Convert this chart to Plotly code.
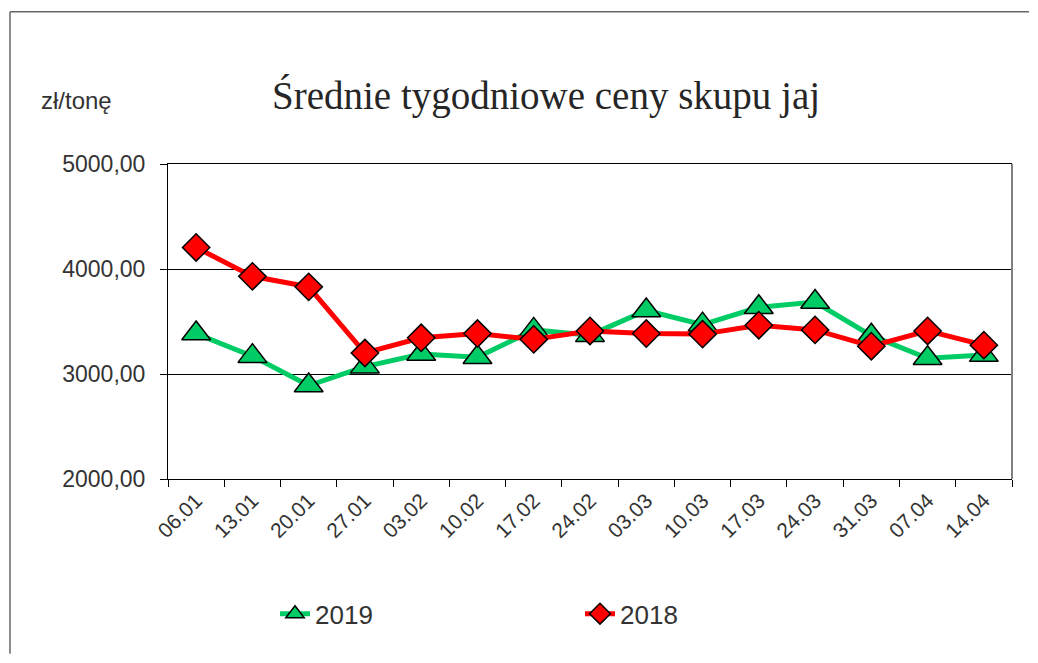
import plotly.graph_objects as go

categories = ["06.01", "13.01", "20.01", "27.01", "03.02", "10.02", "17.02", "24.02",
              "03.03", "10.03", "17.03", "24.03", "31.03", "07.04", "14.04"]
y2019 = [3385, 3170, 2890, 3070, 3190, 3160, 3420, 3370, 3605, 3470, 3635, 3685, 3365, 3150, 3180]
y2018 = [4205, 3930, 3830, 3200, 3345, 3385, 3330, 3410, 3385, 3380, 3465, 3420, 3265, 3410, 3275]
ytick_vals = [2000, 3000, 4000, 5000]
ytick_text = ["2000,00", "3000,00", "4000,00", "5000,00"]

# page has an 8px body margin; keep the figure a bit smaller than the window
OFF = 8
W, H = 1022, 647
# plot area in page pixels
L, R, T, B = 168, 1012, 163.5, 479
pw, ph = R - L, B - T

def px(x):
    return (x - L) / pw

def py(y):
    return (B - y) / ph

fig = go.Figure()
fig.add_trace(go.Scatter(
    x=categories, y=y2019, name="2019", mode="lines+markers",
    line=dict(color="#00CC66", width=5),
    marker=dict(symbol="triangle-up", size=25, color="#00CC66",
                line=dict(color="black", width=1.5)),
))
fig.add_trace(go.Scatter(
    x=categories, y=y2018, name="2018", mode="lines+markers",
    line=dict(color="#FF0000", width=5),
    marker=dict(symbol="diamond", size=21, color="#FF0000",
                line=dict(color="black", width=1.5)),
))

fig.update_layout(
    width=W, height=H,
    margin=dict(l=L - OFF, r=(OFF + W) - R, t=T - OFF, b=(OFF + H) - B,
                autoexpand=False, pad=0),
    paper_bgcolor="white", plot_bgcolor="white",
    font=dict(family="Liberation Sans, Arial, sans-serif", color="#333333"),
    showlegend=True,
    legend=dict(orientation="h", x=px(275), y=py(614), yanchor="middle", xanchor="left",
                font=dict(size=26, color="#333333"), entrywidth=260,
                bgcolor="rgba(0,0,0,0)", traceorder="normal"),
    xaxis=dict(type="category", showline=True, linecolor="black", linewidth=1, mirror=True,
               ticks="outside", tickson="boundaries", ticklen=7, tickcolor="black",
               tickangle=-45, tickfont=dict(size=21, color="#333333"),
               showgrid=False, range=[-0.5, len(categories) - 0.5]),
    yaxis=dict(range=[2000, 5000], tickvals=ytick_vals, ticktext=ytick_text,
               showline=True, linecolor="black", linewidth=1,
               ticks="outside", ticklen=7, tickcolor="black",
               tickfont=dict(size=23, color="#333333"), ticklabelstandoff=10,
               showgrid=True, gridcolor="black", gridwidth=1, zeroline=False),
)

# right border of plot area (gray)
fig.add_shape(type="line", xref="paper", yref="paper", x0=1, x1=1, y0=0, y1=1,
              line=dict(color="#808080", width=2))
# outer chart frame: only left and top edges are visible in the window
fig.add_shape(type="line", xref="paper", yref="paper",
              x0=px(10), x1=px(10), y0=py(OFF + H - 1), y1=py(11),
              line=dict(color="#666666", width=1.5), layer="below")
fig.add_shape(type="line", xref="paper", yref="paper",
              x0=px(10), x1=px(OFF + W - 1), y0=py(11), y1=py(11),
              line=dict(color="#666666", width=1.5), layer="below")

fig.add_annotation(text="Średnie tygodniowe ceny skupu jaj", xref="paper", yref="paper",
                   x=px(546), y=py(95), xanchor="center", yanchor="middle", showarrow=False,
                   font=dict(family="Liberation Serif, Times New Roman, serif", size=39,
                             color="#262626"))
fig.add_annotation(text="zł/tonę", xref="paper", yref="paper",
                   x=px(39), y=py(100), xanchor="left", yanchor="middle", showarrow=False,
                   font=dict(size=24, color="#333333"))

fig.write_html("out.html")
